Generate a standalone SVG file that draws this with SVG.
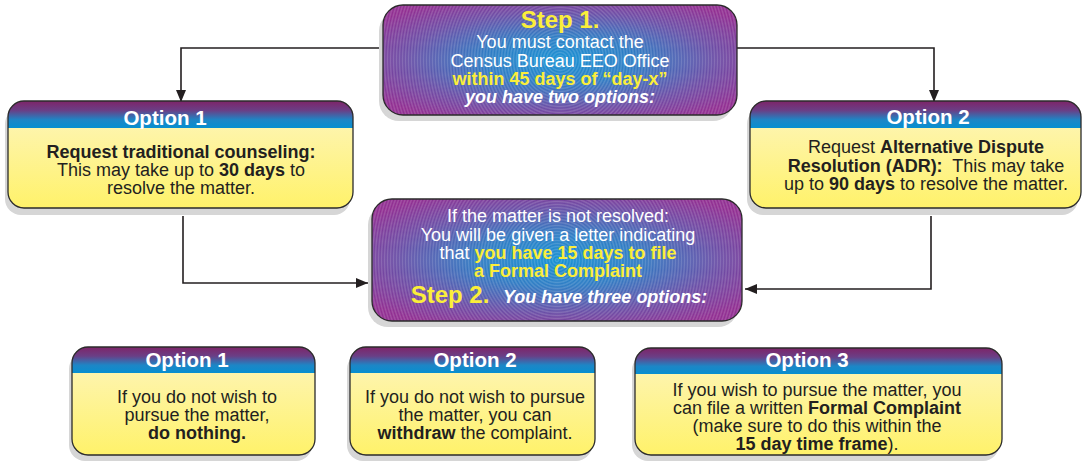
<svg xmlns="http://www.w3.org/2000/svg" width="1083" height="461" viewBox="0 0 1083 461">
<style>
  text { font-family: "Liberation Sans", Arial, sans-serif; text-anchor: middle; }
  .body { font-size: 18px; fill: #231f20; }
  .hdr { font-size: 20.5px; font-weight: bold; fill: #ffffff; }
  .wt { font-size: 18px; fill: #ffffff; }
  .yl { fill: #fbee3a; font-weight: bold; }
  .step { font-size: 24px; font-weight: bold; fill: #fbee3a; }
  .b { font-weight: bold; }
  .bi { font-weight: bold; font-style: italic; fill: #ffffff; }
  .shadow { fill: #d6d6d6; }
  .outline { fill: none; stroke: #2b2b2b; stroke-width: 1.3; }
  .conn { fill: none; stroke: #231f20; stroke-width: 1.6; }
</style>
<defs>
  <linearGradient id="hdrGrad" x1="0" y1="0" x2="0" y2="1">
    <stop offset="0" stop-color="#7e2468"/>
    <stop offset="0.35" stop-color="#6a3f86"/>
    <stop offset="0.7" stop-color="#1d86c6"/>
    <stop offset="1" stop-color="#078fd0"/>
  </linearGradient>
  <linearGradient id="ylGrad" x1="0" y1="0" x2="0" y2="1">
    <stop offset="0" stop-color="#fdf5c0"/>
    <stop offset="1" stop-color="#fff26a"/>
  </linearGradient>
  <radialGradient id="purpGrad" cx="0.5" cy="0.5" r="0.62">
    <stop offset="0" stop-color="#1590d3"/>
    <stop offset="0.35" stop-color="#2f7bc3"/>
    <stop offset="0.7" stop-color="#6a4ea6"/>
    <stop offset="1" stop-color="#902d91"/>
  </radialGradient>
  <radialGradient id="ring1" gradientUnits="userSpaceOnUse" cx="560" cy="60" r="3" spreadMethod="repeat">
    <stop offset="0" stop-color="#ffffff" stop-opacity="0"/>
    <stop offset="0.5" stop-color="#ffffff" stop-opacity="0.18"/>
    <stop offset="1" stop-color="#ffffff" stop-opacity="0"/>
  </radialGradient>
  <radialGradient id="ring2" gradientUnits="userSpaceOnUse" cx="557" cy="260" r="3" spreadMethod="repeat">
    <stop offset="0" stop-color="#ffffff" stop-opacity="0"/>
    <stop offset="0.5" stop-color="#ffffff" stop-opacity="0.18"/>
    <stop offset="1" stop-color="#ffffff" stop-opacity="0"/>
  </radialGradient>
  <marker id="arrow" markerUnits="userSpaceOnUse" markerWidth="12" markerHeight="10" refX="12" refY="5" orient="auto">
    <path d="M0,0 L12,5 L0,10 Z" fill="#231f20"/>
  </marker>
</defs>

<rect width="1083" height="461" fill="#ffffff"/>

<g id="connectors">
  <path class="conn" d="M383,48 H181 V102" marker-end="url(#arrow)"/>
  <path class="conn" d="M737,48 H934 V102" marker-end="url(#arrow)"/>
  <path class="conn" d="M183,216 V283 H368" marker-end="url(#arrow)"/>
  <path class="conn" d="M931,216 V289 H745" marker-end="url(#arrow)"/>
</g>

<g id="step1">
  <rect class="shadow" x="379" y="11" width="354" height="110" rx="20"/>
  <rect x="383" y="5" width="354" height="110" rx="20" fill="url(#purpGrad)"/>
  <rect x="383" y="5" width="354" height="110" rx="20" fill="url(#ring1)"/>
  <rect class="outline" x="383" y="5" width="354" height="110" rx="20"/>
  <text class="step" x="560" y="28">Step 1.</text>
  <text class="wt" x="560" y="47.5">You must contact the</text>
  <text class="wt" x="560" y="66.5">Census Bureau EEO Office</text>
  <text class="wt yl" x="560" y="85">within 45 days of “day-x”</text>
  <text class="wt bi" x="560" y="103">you have two options:</text>
</g>

<g id="option1-top">
  <rect class="shadow" x="5" y="108" width="345" height="107" rx="16"/>
  <rect x="8" y="101" width="345" height="107" rx="16" fill="url(#ylGrad)"/>
  <path d="M8,128 V117 A16,16 0 0 1 24,101 H337 A16,16 0 0 1 353,117 V128 Z" fill="url(#hdrGrad)"/>
  <rect class="outline" x="8" y="101" width="345" height="107" rx="16"/>
  <text class="hdr" x="165" y="124.5">Option 1</text>
  <text class="body b" x="181" y="158">Request traditional counseling:</text>
  <text class="body" x="181" y="176">This may take up to <tspan class="b">30 days</tspan> to</text>
  <text class="body" x="181" y="194">resolve the matter.</text>
</g>

<g id="option2-top">
  <rect class="shadow" x="747" y="108" width="331" height="107" rx="16"/>
  <rect x="750" y="101" width="331" height="107" rx="16" fill="url(#ylGrad)"/>
  <path d="M750,128 V117 A16,16 0 0 1 766,101 H1065 A16,16 0 0 1 1081,117 V128 Z" fill="url(#hdrGrad)"/>
  <rect class="outline" x="750" y="101" width="331" height="107" rx="16"/>
  <text class="hdr" x="928" y="123.5">Option 2</text>
  <text class="body" x="926" y="153">Request <tspan class="b">Alternative Dispute</tspan></text>
  <text class="body" x="926" y="171.5"><tspan class="b">Resolution (ADR):</tspan>&#160; This may take</text>
  <text class="body" x="926" y="190">up to <tspan class="b">90 days</tspan> to resolve the matter.</text>
</g>

<g id="step2">
  <rect class="shadow" x="368" y="205" width="370" height="122" rx="20"/>
  <rect x="372" y="199" width="370" height="122" rx="20" fill="url(#purpGrad)"/>
  <rect x="372" y="199" width="370" height="122" rx="20" fill="url(#ring2)"/>
  <rect class="outline" x="372" y="199" width="370" height="122" rx="20"/>
  <text class="wt" x="558" y="222">If the matter is not resolved:</text>
  <text class="wt" x="558" y="241">You will be given a letter indicating</text>
  <text class="wt" x="558" y="259">that <tspan class="yl">you have 15 days to file</tspan></text>
  <text class="wt yl" x="558" y="277">a Formal Complaint</text>
  <text class="wt" x="559" y="303"><tspan class="step">Step 2.</tspan><tspan class="bi" dx="9"> You have three options:</tspan></text>
</g>

<g id="option1-bottom">
  <rect class="shadow" x="69" y="353" width="243" height="108" rx="16"/>
  <rect x="72" y="347" width="243" height="108" rx="16" fill="url(#ylGrad)"/>
  <path d="M72,373 V363 A16,16 0 0 1 88,347 H299 A16,16 0 0 1 315,363 V373 Z" fill="url(#hdrGrad)"/>
  <rect class="outline" x="72" y="347" width="243" height="108" rx="16"/>
  <text class="hdr" x="187" y="367">Option 1</text>
  <text class="body" x="197" y="403">If you do not wish to</text>
  <text class="body" x="197" y="421">pursue the matter,</text>
  <text class="body b" x="197" y="439">do nothing.</text>
</g>

<g id="option2-bottom">
  <rect class="shadow" x="347" y="353" width="245" height="108" rx="16"/>
  <rect x="350" y="347" width="245" height="108" rx="16" fill="url(#ylGrad)"/>
  <path d="M350,373 V363 A16,16 0 0 1 366,347 H579 A16,16 0 0 1 595,363 V373 Z" fill="url(#hdrGrad)"/>
  <rect class="outline" x="350" y="347" width="245" height="108" rx="16"/>
  <text class="hdr" x="475" y="367">Option 2</text>
  <text class="body" x="475" y="403">If you do not wish to pursue</text>
  <text class="body" x="475" y="421">the matter, you can</text>
  <text class="body" x="475" y="439"><tspan class="b">withdraw</tspan> the complaint.</text>
</g>

<g id="option3-bottom">
  <rect class="shadow" x="632" y="354" width="367" height="107" rx="16"/>
  <rect x="635" y="348" width="367" height="107" rx="16" fill="url(#ylGrad)"/>
  <path d="M635,374 V364 A16,16 0 0 1 651,348 H986 A16,16 0 0 1 1002,364 V374 Z" fill="url(#hdrGrad)"/>
  <rect class="outline" x="635" y="348" width="367" height="107" rx="16"/>
  <text class="hdr" x="807" y="367">Option 3</text>
  <text class="body" x="817" y="396">If you wish to pursue the matter, you</text>
  <text class="body" x="817" y="414">can file a written <tspan class="b">Formal Complaint</tspan></text>
  <text class="body" x="817" y="432">(make sure to do this within the</text>
  <text class="body" x="817" y="450"><tspan class="b">15 day time frame</tspan>).</text>
</g>
</svg>
